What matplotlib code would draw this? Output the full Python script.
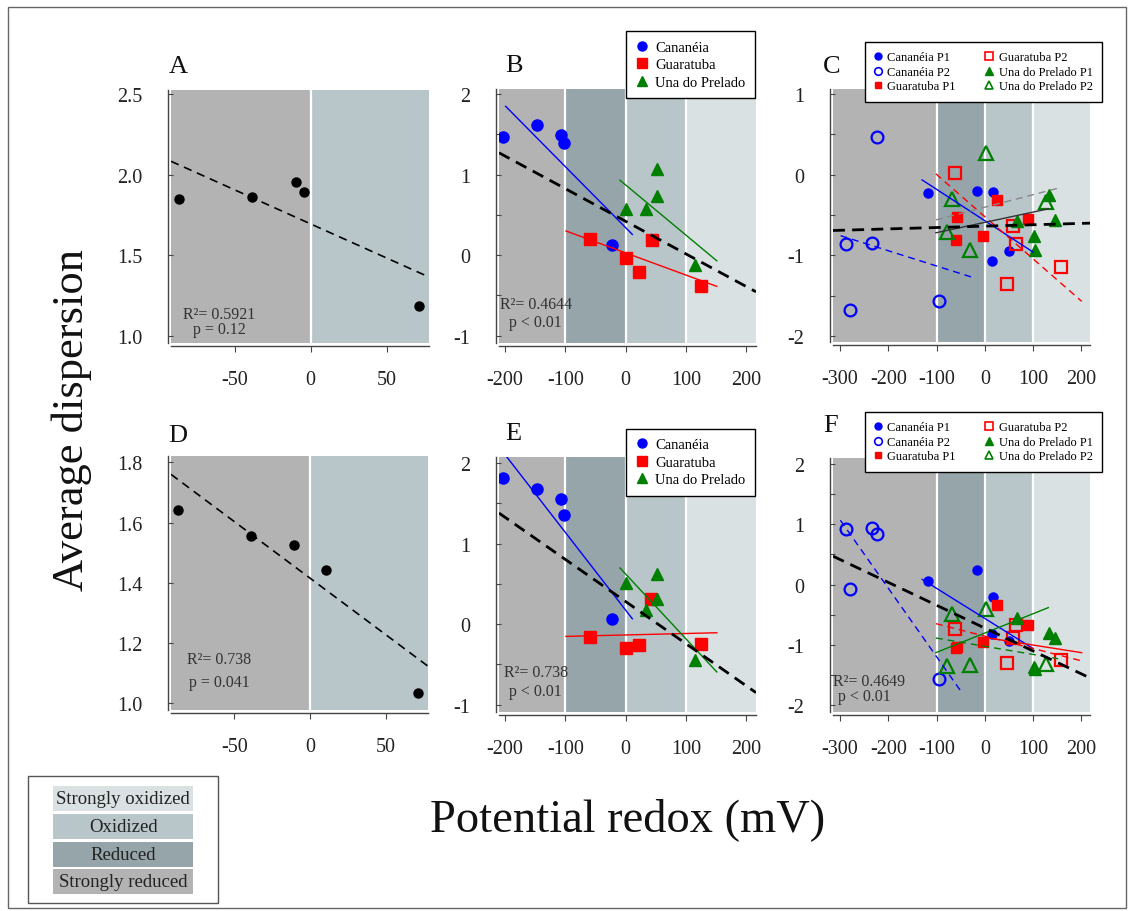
import numpy as np
import matplotlib.pyplot as plt
from matplotlib.lines import Line2D
from matplotlib.patches import Rectangle

plt.rcParams['font.family'] = ['Liberation Serif', 'DejaVu Serif']
plt.rcParams['axes.unicode_minus'] = False

W, H = 1134, 912

# ---------------- data ----------------
# A / D : pooled values
redox_A = [-87, -38.4, -9.9, -4.4, 71.4]
disp_A = [1.852, 1.862, 1.952, 1.891, 1.185]
redox_D = [-87.5, -38.8, -10.8, 10.3, 71.3]
disp_D = [1.641, 1.556, 1.525, 1.442, 1.033]

# B / E : per estuary
can_x = [-203, -147.7, -107.9, -102.4, -22.2]
gua_x_B = [-59.8, 0, 22, 43.7, 124.5]
gua_x_E = [-59.8, 0, 22, 42.5, 124.5]
una_x = [0, 33, 52, 52, 115.6]
can_B = [1.47, 1.62, 1.49, 1.39, 0.125]
gua_B = [0.20, -0.03, -0.21, 0.19, -0.38]
una_B = [0.573, 0.573, 0.74, 1.07, -0.12]
can_E = [1.81, 1.68, 1.557, 1.35, 0.067]
gua_E = [-0.16, -0.293, -0.264, 0.316, -0.25]
una_E = [0.51, 0.179, 0.617, 0.316, -0.44]

# C / F : per estuary and point
canP1_x = [-117.6, -17.3, 17.3, 15.2, 49.8]
canP2_x = [-223.4, -288.4, -233, -278.6, -95.4]
guaP1_x = [-57.4, -60.2, -3.5, 24.3, 88.6]
guaP2_x = [-62.2, 58.8, 63.6, 46.3, 157.7]
unaP1_x = [67, 101.7, 103.7, 133.4, 145.2]
unaP2_x = [-69, 2, -79.5, -31, 126.6]
canP1_C = [-0.226, -0.205, -0.217, -1.07, -0.94]
canP2_C = [0.471, -0.857, -0.848, -1.683, -1.566]
guaP1_C = [-0.519, -0.807, -0.766, -0.32, -0.555]
guaP2_C = [0.022, -0.63, -0.857, -1.36, -1.145]
unaP1_C = [-0.58, -0.762, -0.928, -0.247, -0.56]
unaP2_C = [-0.30, 0.27, -0.712, -0.928, -0.34]
canP1_F = [0.052, 0.234, -0.207, -0.825, -0.94]
canP2_F = [0.841, 0.924, 0.936, -0.069, -1.57]
guaP1_F = [-1.034, -1.05, -0.951, -0.345, -0.676]
guaP2_F = [-0.731, -0.885, -0.665, -1.294, -1.25]
unaP1_F = [-0.554, -1.36, -1.40, -0.81, -0.88]
unaP2_F = [-0.494, -0.41, -1.35, -1.33, -1.31]

# regression lines: (intercept, slope) and (intercept, slope, x from, x to)
fit_A = (1.695, -0.00422)
fit_D = (1.415, -0.00375)
fit_B = (0.42, -0.00405)
fit_E = (0.28, -0.00523)
fit_C = (-0.638, 0.000171)
fit_F = (-0.722, -0.003785)
fit_B_can = (0.341, -0.00757, -199, 11)
fit_B_gua = (0.028, -0.00275, -99, 151)
fit_B_una = (0.871, -0.00623, -9.5, 151)
fit_E_can = (0.173, -0.00965, -199, 11)
fit_E_gua = (-0.134, 0.00018, -99, 151)
fit_E_una = (0.621, -0.00804, -9.5, 151)
fit_C_canP1 = (-0.571, -0.00389, -130, 100)
fit_C_canP2 = (-1.321, -0.00189, -299, -23)
fit_C_guaP2 = (-0.521, -0.00523, -101.6, 200.6)
fit_C_guaP1 = (-0.591, 0.001275, -101.6, 131.4)
fit_C_unaP2 = (-0.403, 0.00155, -101.6, 152)
fit_F_canP1 = (-0.562, -0.00498, -130, 100)
fit_F_canP2 = (-2.329, -0.01133, -299.4, -46.1)
fit_F_guaP2 = (-0.855, -0.00204, -101.6, 200.6)
fit_F_unaP1 = (-0.876, -0.001258, 3.5, 200.6)
fit_F_guaP1 = (-0.803, 0.0032, -101.6, 131.4)
fit_F_unaP2 = (-1.0225, -0.001353, -101.6, 152)

stats = {'A': ('R²= 0.5921', 'p = 0.12'), 'B': ('R²= 0.4644', 'p < 0.01'),
         'D': ('R²= 0.738', 'p = 0.041'), 'E': ('R²= 0.738', 'p < 0.01'),
         'F': ('R²= 0.4649', 'p < 0.01')}

zone_names = ['Strongly oxidized', 'Oxidized', 'Reduced', 'Strongly reduced']
zone_cols = ['#dae1e3', '#b8c5c9', '#95a5aa', '#b3b3b3']
SO, OX, RE, SR = zone_cols

BLUE, RED, GREEN = '#0000ff', '#ff0000', '#008000'


def fx(x):
    return x / W


def fy(y):
    return 1 - y / H


fig = plt.figure(figsize=(W / 100, H / 100), dpi=100)
fig.patches.append(Rectangle((fx(8), fy(909)), fx(1126) - fx(8), fy(8) - fy(909),
                             transform=fig.transFigure, fill=False, ec='#666666', lw=1))


def make_ax(l, t, r, b, xlim, ylim, xticks, yticks, ylabels):
    ax = fig.add_axes([fx(l), fy(b), (r - l) / W, (b - t) / H])
    ax.set_xlim(xlim)
    ax.set_ylim(ylim)
    for s in ['top', 'right']:
        ax.spines[s].set_visible(False)
    for s in ['left', 'bottom']:
        ax.spines[s].set_position(('outward', 2.5))
        ax.spines[s].set_color('#444444')
        ax.spines[s].set_linewidth(1.0)
    ax.set_xticks(xticks)
    ax.set_xticklabels([str(v) for v in xticks])
    ax.set_yticks(yticks)
    ax.set_yticklabels(ylabels)
    ax.tick_params(axis='y', direction='in', length=3.5, width=0.8, color='#444444',
                   pad=18, labelsize=14.5, labelcolor='#222222')
    ax.tick_params(axis='x', direction='out', length=4, width=0.8, color='#444444',
                   pad=13, labelsize=14.5, labelcolor='#222222')
    return ax


def bands(ax, edges, cols):
    for (a, b), c in zip(zip(edges[:-1], edges[1:]), cols):
        ax.axvspan(a, b, color=c, lw=0, zorder=0)
    for e in edges[1:-1]:
        ax.axvline(e, color='white', lw=1.6, zorder=0.5)


def abline(ax, fit, **kw):
    x = np.array(ax.get_xlim())
    ax.plot(x, fit[0] + fit[1] * x, **kw)


def seg(ax, fit, **kw):
    x = np.array(fit[2:4])
    ax.plot(x, fit[0] + fit[1] * x, **kw)


def lab(ax_letter, x, y):
    fig.text(fx(x), fy(y), ax_letter, fontsize=19, ha='left', va='baseline', color='#111111')


def stat(key, x1, y1, x2, y2):
    r2, p = stats[key]
    fig.text(fx(x1), fy(y1), r2, ha='center', va='center', fontsize=11.5, color='#333333')
    fig.text(fx(x2), fy(y2), p, ha='center', va='center', fontsize=11.5, color='#333333')


def int_labels(ticks):
    return [str(int(v)) if float(v).is_integer() else '' for v in ticks]


# ---------------- A ----------------
axA = make_ax(171, 91, 429, 344, (-92, 78), (0.957, 2.525), [-50, 0, 50],
              [1.0, 1.5, 2.0, 2.5], ['1.0', '1.5', '2.0', '2.5'])
bands(axA, [-92, 0, 78], [SR, OX])
axA.plot(redox_A, disp_A, 'o', color='black', ms=6.5, zorder=3)
abline(axA, fit_A, color='black', lw=1.2, dashes=(5, 3.5), zorder=4)
lab('A', 169, 73)
stat('A', 219, 315, 219, 330)

# ---------------- D ----------------
axD = make_ax(171, 457, 428, 711, (-92, 78), (0.977, 1.821), [-50, 0, 50],
              [1.0, 1.2, 1.4, 1.6, 1.8], ['1.0', '1.2', '1.4', '1.6', '1.8'])
bands(axD, [-92, 0, 78], [SR, OX])
axD.plot(redox_D, disp_D, 'o', color='black', ms=6.5, zorder=3)
abline(axD, fit_D, color='black', lw=1.2, dashes=(5, 3.5), zorder=4)
lab('D', 168, 442)
stat('D', 219, 660, 219, 683)

# ---------------- B / E ----------------
yt_BE = np.arange(-1, 2.01, 0.5)
for key, box, ylim, cy, gx, gy, uy, fits, fit_all, lpos in [
        ('B', (499, 90, 756, 344), (-1.09, 2.062), can_B, gua_x_B, gua_B, una_B,
         (fit_B_can, fit_B_gua, fit_B_una), fit_B, (505, 72)),
        ('E', (499, 458, 756, 713), (-1.09, 2.074), can_E, gua_x_E, gua_E, una_E,
         (fit_E_can, fit_E_gua, fit_E_una), fit_E, (505, 440))]:
    ax = make_ax(*box, (-210, 216), ylim, [-200, -100, 0, 100, 200], yt_BE, int_labels(yt_BE))
    bands(ax, [-210, -100, 0, 100, 216], [SR, RE, OX, SO])
    ax.plot(can_x, cy, 'o', color=BLUE, ms=8, zorder=3)
    ax.plot(gx, gy, 's', color=RED, ms=8, zorder=3)
    ax.plot(una_x, uy, '^', color=GREEN, ms=9, zorder=3)
    for f, c in zip(fits, [BLUE, RED, GREEN]):
        seg(ax, f, color=c, lw=1.0, zorder=4)
    abline(ax, fit_all, color='black', lw=2.0, dashes=(4.3, 2.6), zorder=5)
    lab(key, *lpos)

stat('B', 535.7, 305, 535, 323)
stat('E', 535.7, 673, 535, 692)

# legends B / E
hB = [Line2D([], [], ls='none', marker='o', color=BLUE, ms=6.5),
      Line2D([], [], ls='none', marker='s', color=RED, ms=6.5),
      Line2D([], [], ls='none', marker='^', color=GREEN, ms=7)]
labB = ['Cananéia', 'Guaratuba', 'Una do Prelado']
for top in (32, 429.5):
    lg = fig.legend(hB, labB, loc='upper left', bbox_to_anchor=(fx(626), fy(top)),
                    frameon=True, fancybox=False, edgecolor='black', framealpha=1,
                    fontsize=10.5, handlelength=0.9, handletextpad=0.45, borderpad=0.65,
                    labelspacing=0.3, borderaxespad=0)
    lg.get_frame().set_linewidth(1.0)

# ---------------- C / F ----------------
for key, box, ylim, yt, ys, fits, fit_all, lpos in [
        ('C', (833, 90, 1090, 343), (-2.074, 1.062), np.arange(-2, 1.01, 0.5),
         (canP1_C, canP2_C, guaP1_C, guaP2_C, unaP1_C, unaP2_C),
         [(fit_C_canP1, BLUE, '-'), (fit_C_canP2, BLUE, '--'), (fit_C_guaP2, RED, '--'),
          (fit_C_guaP1, '#333333', '-'), (fit_C_unaP2, '#888888', '--')], fit_C, (823, 73)),
        ('F', (833, 459, 1090, 713), (-2.11, 2.094), np.arange(-2, 2.01, 0.5),
         (canP1_F, canP2_F, guaP1_F, guaP2_F, unaP1_F, unaP2_F),
         [(fit_F_canP1, BLUE, '-'), (fit_F_canP2, BLUE, '--'), (fit_F_guaP2, RED, '--'),
          (fit_F_unaP1, RED, '-'), (fit_F_guaP1, GREEN, '-'), (fit_F_unaP2, GREEN, '--')],
         fit_F, (823, 432))]:
    ax = make_ax(*box, (-314.7, 217.8), ylim, [-300, -200, -100, 0, 100, 200], yt, int_labels(yt))
    bands(ax, [-314.7, -100, 0, 100, 217.8], [SR, RE, OX, SO])
    ax.plot(canP1_x, ys[0], 'o', color=BLUE, ms=6.5, zorder=3)
    ax.plot(canP2_x, ys[1], 'o', mfc='none', mec=BLUE, mew=1.6, ms=8.5, zorder=3)
    ax.plot(guaP1_x, ys[2], 's', color=RED, ms=6.5, zorder=3)
    ax.plot(guaP2_x, ys[3], 's', mfc='none', mec=RED, mew=1.6, ms=8, zorder=3)
    ax.plot(unaP1_x, ys[4], '^', color=GREEN, ms=8, zorder=3)
    ax.plot(unaP2_x, ys[5], '^', mfc='none', mec=GREEN, mew=1.6, ms=9.5, zorder=3)
    for f, c, ls in fits:
        if ls == '--':
            seg(ax, f, color=c, lw=1.0, dashes=(5, 3.5), zorder=4)
        else:
            seg(ax, f, color=c, lw=1.0, zorder=4)
    abline(ax, fit_all, color='black', lw=2.0, dashes=(4.3, 2.6), zorder=5)
    lab(key, *lpos)

stat('F', 869, 682, 864, 697)

hC = [Line2D([], [], ls='none', marker='o', color=BLUE, ms=5),
      Line2D([], [], ls='none', marker='o', mfc='none', mec=BLUE, mew=1.2, ms=5.5),
      Line2D([], [], ls='none', marker='s', color=RED, ms=5),
      Line2D([], [], ls='none', marker='s', mfc='none', mec=RED, mew=1.2, ms=5.5),
      Line2D([], [], ls='none', marker='^', color=GREEN, ms=5.5),
      Line2D([], [], ls='none', marker='^', mfc='none', mec=GREEN, mew=1.2, ms=6)]
labC = ['Cananéia P1', 'Cananéia P2', 'Guaratuba P1', 'Guaratuba P2',
        'Una do Prelado P1', 'Una do Prelado P2']
for top in (43, 413):
    lg = fig.legend(hC, labC, loc='upper left', bbox_to_anchor=(fx(864.5), fy(top)), ncol=2,
                    frameon=True, fancybox=False, edgecolor='black', framealpha=1,
                    fontsize=9, handlelength=0.6, handletextpad=0.45, borderpad=0.75,
                    labelspacing=0.2, columnspacing=2.4, borderaxespad=0)
    lg.get_frame().set_linewidth(1.0)

# ---------------- axis titles ----------------
fig.text(fx(72), fy(420), 'Average dispersion', rotation=90, ha='center', va='center',
         fontsize=32, color='#111111')
fig.text(fx(628), fy(820), 'Potential redox (mV)', ha='center', va='center',
         fontsize=33.5, color='#111111')

# ---------------- zone key ----------------
fig.patches.append(Rectangle((fx(28.3), fy(904)), fx(218) - fx(28.3), fy(776.7) - fy(904),
                             transform=fig.transFigure, fill=False, ec='#555555', lw=1))
zone_top = [786.7, 815, 842.7, 870]
for name, col, t in zip(zone_names, zone_cols, zone_top):
    fig.patches.append(Rectangle((fx(53.3), fy(t + 25)), fx(193.3) - fx(53.3), 25 / H,
                                 transform=fig.transFigure, fc=col, ec='none'))
    fig.text(fx(123.3), fy(t + 12.5), name, ha='center', va='center', fontsize=13.5,
             color='#222222')

fig.savefig('out.png', dpi=100)
